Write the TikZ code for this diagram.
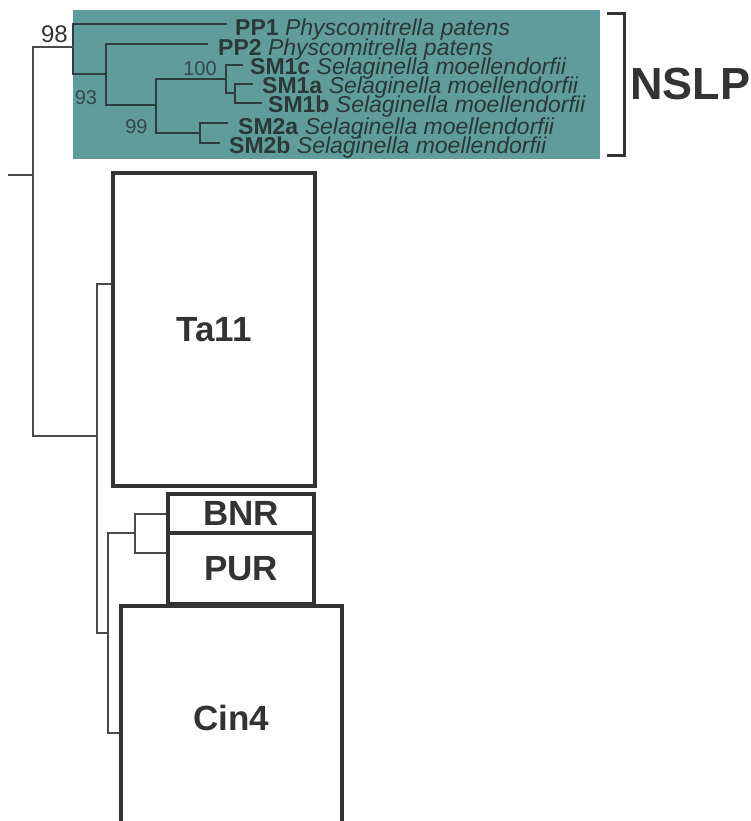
\documentclass[tikz,border=0pt]{standalone}
\usepackage{fontspec}
\setmainfont{Liberation Sans}
\definecolor{tealbg}{HTML}{609C9C}
\definecolor{treedark}{HTML}{2E3E3E}
\definecolor{sptext}{HTML}{2A3838}
\definecolor{bslabel}{HTML}{354848}
\definecolor{outerline}{HTML}{4A4A4A}
\definecolor{boxline}{HTML}{333333}
\tikzset{
  sp/.style={inner sep=0pt, anchor=base west, text=sptext, font=\fontsize{23}{23}\selectfont},
  bs/.style={inner sep=0pt, text=bslabel, font=\fontsize{20}{20}\selectfont},
  innertree/.style={draw=treedark, line width=1.5pt},
  outertree/.style={draw=outerline, line width=1.2pt},
  cladebox/.style={draw=boxline, line width=4pt, inner sep=0pt, anchor=north west,
     font=\bfseries\fontsize{35}{35}\selectfont, text=boxline},
  brkt/.style={draw=boxline, line width=3pt}
}
\begin{document}
\begin{tikzpicture}[x=1pt,y=-1pt]
\useasboundingbox (0,0) rectangle (751,821);
% teal background
\fill[tealbg] (73,10) rectangle (600,159);

% species labels
\node[sp] (PP1) at (235,36) {\textbf{PP1} \textit{Physcomitrella patens}};
\node[sp] (PP2) at (218,56) {\textbf{PP2} \textit{Physcomitrella patens}};
\node[sp] (SM1c) at (250,75) {\textbf{SM1c} \textit{Selaginella moellendorfii}};
\node[sp] (SM1a) at (262,94) {\textbf{SM1a} \textit{Selaginella moellendorfii}};
\node[sp] (SM1b) at (268,113) {\textbf{SM1b} \textit{Selaginella moellendorfii}};
\node[sp] (SM2a) at (238,135) {\textbf{SM2a} \textit{Selaginella moellendorfii}};
\node[sp] (SM2b) at (229,154) {\textbf{SM2b} \textit{Selaginella moellendorfii}};

% tree coordinates (NSLP)
\coordinate (tPP1) at (227,24);
\coordinate (tPP2) at (208,44);
\coordinate (tSM1c) at (243,65);
\coordinate (tSM1a) at (253,84);
\coordinate (tSM1b) at (262,103);
\coordinate (tSM2a) at (228,123);
\coordinate (tSM2b) at (220,143);
\coordinate (n1) at (73,47);
\coordinate (n2) at (106,74);
\coordinate (n3) at (156,105);
\coordinate (n4) at (226,79);
\coordinate (n6) at (235,93);
\coordinate (n5) at (200,133);

\draw[innertree] (tPP1) -| (n1) |- (n2);
\draw[innertree] (tPP2) -| (n2) |- (n3);
\draw[innertree] (n4) -| (n3) |- (n5);
\draw[innertree] (tSM1c) -| (n4) |- (n6);
\draw[innertree] (tSM1a) -| (n6) |- (tSM1b);
\draw[innertree] (tSM2a) -| (n5) |- (tSM2b);

% bootstrap labels
\node[inner sep=0pt, text=boxline, font=\fontsize{24}{24}\selectfont] (b98) at (54.5,34.5) {98};
\node[bs] (b93) at (86,97.5) {93};
\node[bs] (b99) at (136.5,127) {99};
\node[bs] (b100) at (200,68.5) {100};

% clade boxes
\node[cladebox, minimum width=202pt, minimum height=313pt] (Ta11) at (111,171) {Ta11};
\node[cladebox, minimum width=146pt, minimum height=39pt] (BNR) at (166,492) {BNR};
\node[cladebox, minimum width=146pt, minimum height=71pt] (PUR) at (166,531) {PUR};
\node[cladebox, minimum width=221pt, minimum height=224pt] (Cin4) at (119,604) {Cin4};

% outer tree
\coordinate (stub) at (8,175);
\coordinate (r0) at (33,175);
\coordinate (m1) at (97,436);
\coordinate (tTa) at (Ta11.west |- 0,284);
\coordinate (m2) at (108,633);
\coordinate (m3) at (135,533);
\coordinate (tBNR) at (166,514);
\coordinate (tPUR) at (166,553);
\coordinate (tCin) at (119,733);

\draw[outertree] (n1) -| (r0) |- (m1);
\draw[outertree] (stub) -- (r0);
\draw[outertree] (tTa) -| (m1) |- (m2);
\draw[outertree] (m3) -| (m2) |- (tCin);
\draw[outertree] (tBNR) -| (m3) |- (tPUR);

% bracket and NSLP
\coordinate (k1) at (607,14);
\coordinate (k2) at (624,14);
\coordinate (k3) at (624,156);
\coordinate (k4) at (607,156);
\draw[brkt] (k1) -- (k2) -- (k3) -- (k4);
\node[inner sep=0pt, text=boxline, font=\bfseries\fontsize{45}{45}\selectfont] (NSLP) at (690,84) {NSLP};
\end{tikzpicture}
\end{document}
